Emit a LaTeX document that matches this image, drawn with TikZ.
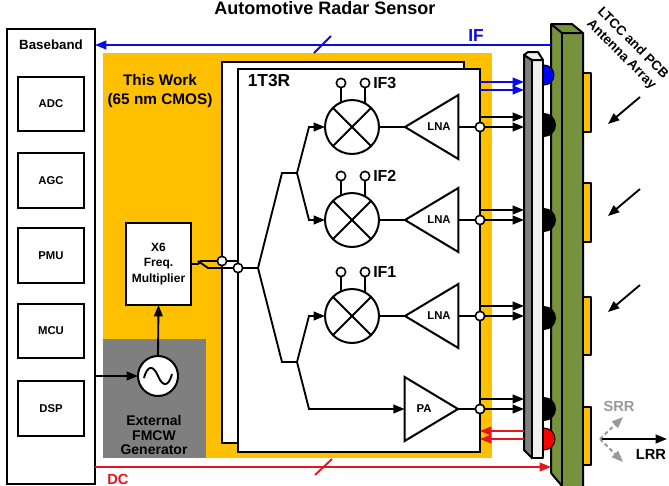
\documentclass[tikz,border=0pt]{standalone}
\usepackage{fontspec}
\setmainfont{Liberation Sans}
\usetikzlibrary{arrows.meta,shapes.geometric}
\definecolor{chipyellow}{HTML}{FFC000}
\definecolor{pcbgreen}{HTML}{76923C}
\definecolor{gengray}{HTML}{7F7F7F}
\definecolor{wireblue}{HTML}{0A0AE6}
\definecolor{wirered}{HTML}{E8141C}
\newcommand{\boldsize}[2]{\fontsize{#1}{#2}\selectfont\bfseries}
\tikzset{
  block/.style={draw,line width=1.5pt,fill=white,outer sep=0pt,inner sep=0pt,align=center,font=\boldsize{8.5}{10.5}},
  subblock/.style={block,minimum width=49.5pt,minimum height=41pt},
  wire/.style={line width=1.4pt},
  arrowwire/.style={wire,-{Triangle[length=8.5pt,width=6.5pt]}},
  terminal/.style={circle,draw,line width=1.2pt,fill=white,inner sep=0pt,outer sep=0pt,minimum size=7pt},
  mixer/.style={circle,draw,line width=1.5pt,fill=white,inner sep=0pt,outer sep=0pt,minimum size=40.5pt},
  amp/.style={isosceles triangle,isosceles triangle stretches,draw,line width=1.5pt,fill=white,inner sep=0pt,outer sep=0pt,minimum width=48pt,minimum height=40pt},
  ampname/.style={font=\boldsize{8.5}{10}},
  ifname/.style={font=\boldsize{12}{14},anchor=west,inner sep=0pt},
  pcb/.style={draw=black,line width=1.5pt,line join=round},
  dome/.style={draw=black,line width=0.8pt}
}
\begin{document}
\begin{tikzpicture}[x=0.75pt,y=-0.75pt]
\useasboundingbox (0,0) rectangle (669,486);

\node[font=\boldsize{13.5}{16}] (title) at (325,8) {Automotive Radar Sensor};

\node[block,minimum width=66pt,minimum height=341.25pt] (baseband) at (51,256.5) {};
\node[font=\boldsize{10}{12}] (basebandname) at (51,45) {Baseband};
\node[subblock] (adc) at (51,104) {ADC};
\node[subblock] (agc) at (51,180.5) {AGC};
\node[subblock] (pmu) at (51,255.5) {PMU};
\node[subblock] (mcu) at (51,331) {MCU};
\node[subblock] (dsp) at (51,408.5) {DSP};

\node[fill=chipyellow,inner sep=0pt,outer sep=0pt,minimum width=291.75pt,minimum height=303.75pt] (work) at (297.5,255.5) {};
\node[align=center,font=\boldsize{11.5}{14}] (workname) at (160,91) {This Work\\(65 nm CMOS)};
\node[fill=gengray,inner sep=0pt,outer sep=0pt,minimum width=77.25pt,minimum height=89.25pt] (gen) at (154.5,398.5) {};
\node[align=center,font=\boldsize{10.5}{11}] (genname) at (154,435) {External\\FMCW\\Generator};

\node[block,minimum width=181.5pt,minimum height=285.75pt] (backchip) at (343,252.5) {};
\node[block,minimum width=181.5pt,minimum height=287.25pt] (chip) at (359,260.5) {};
\node[font=\boldsize{13}{15}] (chipname) at (269,81) {1T3R};

\node[block,minimum width=48.75pt,minimum height=61.5pt,font=\boldsize{9}{11.5}] (mult) at (158.5,264) {X6\\Freq.\\Multiplier};
\node[circle,draw,line width=1.5pt,fill=white,inner sep=0pt,outer sep=0pt,minimum size=30pt] (osc) at (158,376) {};
\draw[wire] (144,378) .. controls (147,366) and (153,364) .. (158,376) .. controls (163,388) and (169,386) .. (172,374);

\coordinate (dspout) at (baseband.east |- osc.west);
\draw[arrowwire] (dspout) -- (osc.west);
\draw[arrowwire] (osc.north) -- (mult.south);

% antenna board and interposer
\fill[pcbgreen] (551,24)--(572,24)--(583,33)--(583,486)--(562,486)--(551,473)--cycle;
\draw[pcb] (551,473)--(551,24)--(572,24)--(583,33)--(583,486);
\draw[pcb] (551,24)--(562,33)--(583,33);
\draw[pcb] (562,33)--(562,486);
\draw[pcb] (551,473)--(562,486);

\draw[pcb,fill=chipyellow,line width=1pt] (583,73) rectangle (591,132);
\draw[pcb,fill=chipyellow,line width=1pt] (583,183) rectangle (591,242);
\draw[pcb,fill=chipyellow,line width=1pt] (583,297) rectangle (591,355);
\draw[pcb,fill=chipyellow,line width=1pt] (583,407) rectangle (591,465);

\draw[dome,fill=blue] (544,75) circle [radius=10];
\fill (544,125) circle [radius=12];
\fill (544,220) circle [radius=12];
\fill (544,318) circle [radius=12];
\fill (544,409) circle [radius=12];
\draw[dome,fill=red] (544,439) circle [radius=11];

\draw[pcb,fill=gray] (524,55)--(532,60)--(532,458)--(524,450)--cycle;
\draw[pcb,fill=black!6] (532,60)--(543,60)--(543,458)--(532,458)--cycle;
\draw[pcb,fill=black!6] (524,55)--(528,52)--(538,52)--(543,60)--(532,60)--cycle;

% mixers and amplifiers
\node[mixer] (mixA) at (352,127) {};
\node[mixer] (mixB) at (352,220) {};
\node[mixer] (mixC) at (352,316) {};
\draw[wire] (mixA.45)--(mixA.225) (mixA.135)--(mixA.315);
\draw[wire] (mixB.45)--(mixB.225) (mixB.135)--(mixB.315);
\draw[wire] (mixC.45)--(mixC.225) (mixC.135)--(mixC.315);

\node[terminal] (ifAa) at (341,83) {};
\node[terminal] (ifAb) at (365,83) {};
\node[terminal] (ifBa) at (341,176) {};
\node[terminal] (ifBb) at (365,176) {};
\node[terminal] (ifCa) at (341,272) {};
\node[terminal] (ifCb) at (365,272) {};
\draw[wire] (ifAa)--(mixA.114) (ifAb)--(mixA.61);
\draw[wire] (ifBa)--(mixB.114) (ifBb)--(mixB.61);
\draw[wire] (ifCa)--(mixC.114) (ifCb)--(mixC.61);
\node[ifname] (ifAname) at (373,83) {IF3};
\node[ifname] (ifBname) at (373,176) {IF2};
\node[ifname] (ifCname) at (373,272) {IF1};

\node[amp,shape border rotate=180,anchor=apex] (lnaA) at (405,127) {};
\node[amp,shape border rotate=180,anchor=apex] (lnaB) at (405,220) {};
\node[amp,shape border rotate=180,anchor=apex] (lnaC) at (405,316) {};
\node[amp,anchor=apex] (pa) at (458,409) {};
\node[ampname] (lnaAname) at (439,127) {LNA};
\node[ampname] (lnaBname) at (439,220) {LNA};
\node[ampname] (lnaCname) at (439,316) {LNA};
\node[ampname] (paname) at (424,409) {PA};

\draw[wire] (mixA.east)--(lnaA.apex);
\draw[wire] (mixB.east)--(lnaB.apex);
\draw[wire] (mixC.east)--(lnaC.apex);

% splitter tree
\node[terminal] (lofirst) at (222,261) {};
\node[terminal] (losecond) at (238,268) {};
\coordinate (split) at (258,268);
\coordinate (upper) at (297,173);
\coordinate (lower) at (297,362);
\draw[wire] (mult.east |- 0,264)--(198,264)--(201,261)--(lofirst)--(238,261);
\draw[wire] (198,261)--(208,268)--(losecond)--(split);
\draw[wire] (split)--(282,173)--(upper);
\draw[wire] (split)--(282,362)--(lower);
\draw[arrowwire] (upper)--(309,127)--(mixA.west);
\draw[arrowwire] (upper)--(309,220)--(mixB.west);
\draw[arrowwire] (lower)--(309,316)--(mixC.west);
\draw[arrowwire] (lower)--(309,409)--(pa.lower side);

% outputs to the interposer
\node[terminal] (outA) at (480,127) {};
\node[terminal] (outB) at (480,220) {};
\node[terminal] (outC) at (480,316) {};
\node[terminal] (outD) at (480,409) {};
\draw[wire] (lnaA.lower side)--(outA);
\draw[wire] (lnaB.lower side)--(outB);
\draw[wire] (lnaC.lower side)--(outC);
\draw[wire] (pa.apex)--(outD);
\coordinate (stripA) at (524,127);
\coordinate (stripB) at (524,220);
\coordinate (stripC) at (524,316);
\coordinate (stripD) at (524,409);
\draw[arrowwire] (outA)--(stripA);
\draw[arrowwire] (outB)--(stripB);
\draw[arrowwire] (outC)--(stripC);
\draw[arrowwire] (outD)--(stripD);
\draw[arrowwire] (480,117)--(524,117);
\draw[arrowwire] (480,210)--(524,210);
\draw[arrowwire] (480,306)--(524,306);
\draw[arrowwire] (480,399)--(524,399);
\draw[arrowwire,wireblue] (480,82)--(524,82);
\draw[arrowwire,wireblue] (480,90)--(524,90);
\draw[arrowwire,wirered] (524,431)--(480,431);
\draw[arrowwire,wirered] (524,439)--(480,439);

% IF and DC lines
\coordinate (ifport) at (551,45);
\coordinate (dcport) at (551,467);
\draw[arrowwire,wireblue] (ifport)--(ifport -| baseband.east);
\draw[wire,wireblue] (314,53)--(331,36);
\node[font=\boldsize{13}{15},text=wireblue] (ifname) at (476,36) {IF};
\draw[arrowwire,wirered] (dcport -| baseband.east)--(dcport);
\draw[wire,wirered] (315,475)--(332,459);
\node[font=\boldsize{11}{13},text=wirered] (dcname) at (118,479) {DC};

% incoming waves and radiated beams
\node[rotate=-45,align=center,font=\boldsize{10}{12}] (arrayname) at (627,49) {LTCC and PCB\\Antenna Array};
\coordinate (waveA) at (640,97);
\coordinate (waveAend) at (608,124);
\coordinate (waveB) at (640,189);
\coordinate (waveBend) at (608,216);
\coordinate (waveC) at (640,285);
\coordinate (waveCend) at (608,312);
\draw[arrowwire] (waveA)--(waveAend);
\draw[arrowwire] (waveB)--(waveBend);
\draw[arrowwire] (waveC)--(waveCend);
\coordinate (beam) at (600,439);
\coordinate (lrrend) at (667,439);
\coordinate (srrup) at (623,417);
\coordinate (srrdown) at (623,462);
\draw[arrowwire] (beam)--(lrrend);
\draw[arrowwire,black!40,densely dashed] (beam)--(srrup);
\draw[arrowwire,black!40,densely dashed] (beam)--(srrdown);
\node[font=\boldsize{11}{13},text=black!40] (srrname) at (619,406) {SRR};
\node[font=\boldsize{11}{13}] (lrrname) at (651,454) {LRR};
\end{tikzpicture}
\end{document}
